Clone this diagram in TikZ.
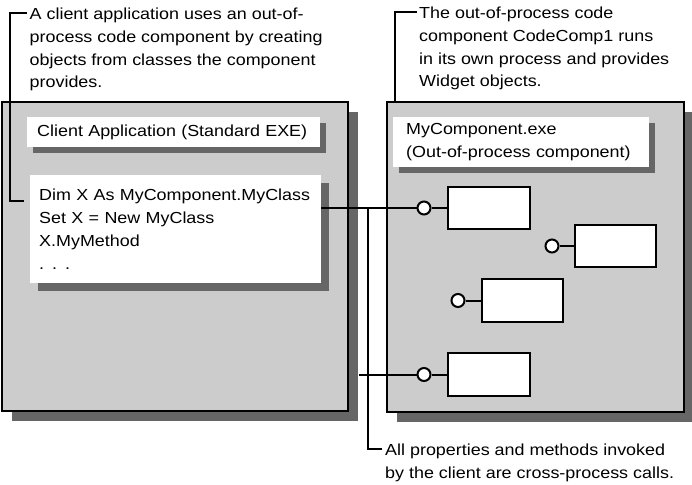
\documentclass[tikz,border=0pt]{standalone}
\usepackage{fontspec}
\setmainfont{Liberation Sans}[FakeStretch=1.12]
\usetikzlibrary{shadows}
\definecolor{boxgray}{HTML}{CCCCCC}
\definecolor{shadegray}{HTML}{666666}
\tikzset{
  procbox/.style={draw, line width=2.2pt, fill=boxgray, anchor=north west, inner sep=0pt,
    drop shadow={shadow xshift=10pt, shadow yshift=-10pt, fill=shadegray, opacity=1}},
  titlebox/.style={fill=white, anchor=north west, align=left, inner ysep=0pt,
    drop shadow={shadow xshift=#1, shadow yshift=-#1, fill=shadegray, opacity=1}},
  titlebox/.default=6pt,
  widget/.style={draw, line width=1.6pt, fill=white, minimum width=82pt, minimum height=42pt},
  port/.style={circle, draw, line width=2pt, fill=white, minimum size=13pt, inner sep=0pt},
  note/.style={anchor=north west, align=left, inner sep=0pt},
  wire/.style={line width=2pt}
}
\begin{document}
\begin{tikzpicture}[x=1pt, y=-1pt, font=\fontsize{16}{22.7}\selectfont]
\useasboundingbox [fill=white] (0,0) rectangle (692,484);
\node [procbox, minimum width=346pt, minimum height=309pt] (client) at (1,101) {};
\node [procbox, minimum width=297pt, minimum height=310pt] (server) at (386,101) {};
\node [titlebox, text width=273pt, inner xsep=10pt, minimum height=30pt] (clienttitle) at (27,117) {Client Application (Standard EXE)};
\node [titlebox=8pt, text width=273pt, inner xsep=9pt, minimum height=108pt] (code) at (30,175) {Dim X As MyComponent.MyClass\\Set X = New MyClass\\X.MyMethod\\. . .};
\node [titlebox, text width=230pt, inner xsep=13pt, minimum height=50pt] (comptitle) at (393,117) {MyComponent.exe\\(Out-of-process component)};
\node [widget] (w1) at (489,208) {};
\node [widget, minimum width=81pt] (w2) at (615.5,246) {};
\node [widget, minimum width=81pt, minimum height=43pt] (w3) at (522.5,300.5) {};
\node [widget, minimum height=43pt] (w4) at (489,374.5) {};
\node [port] (p1) at (424,208) {};
\node [port] (p2) at (552,246) {};
\node [port] (p3) at (458,300.5) {};
\node [port] (p4) at (424,374.5) {};
\draw [wire] (p1) -- (w1);
\draw [wire] (p2) -- (w2);
\draw [wire] (p3) -- (w3);
\draw [wire] (p4) -- (w4);
\node [note] (clientnote) at (29.5,8) {A client application uses an out-of-\\process code component by creating\\objects from classes the component\\provides.};
\node [note] (servernote) at (419,7) {The out-of-process code\\component CodeComp1 runs\\in its own process and provides\\Widget objects.};
\node [note] (callnote) at (385,443.5) {All properties and methods invoked\\by the client are cross-process calls.};
\coordinate (tap) at (368,208);
\draw [wire] (code.east |- p1) -- (p1);
\draw [wire] ([xshift=10pt]client.east |- p4) -- (p4);
\draw [wire] (tap) |- ([xshift=-3pt,yshift=-5.5pt]callnote.north west);
\draw [wire] ([xshift=-3pt,yshift=-5.5pt]clientnote.north west) -- ++(-17,0) |- ([xshift=-6pt,yshift=-26pt]code.north west);
\draw [wire] ([xshift=-2pt,yshift=-5.5pt]servernote.north west) -| ([xshift=9pt]server.north west);
\end{tikzpicture}
\end{document}
